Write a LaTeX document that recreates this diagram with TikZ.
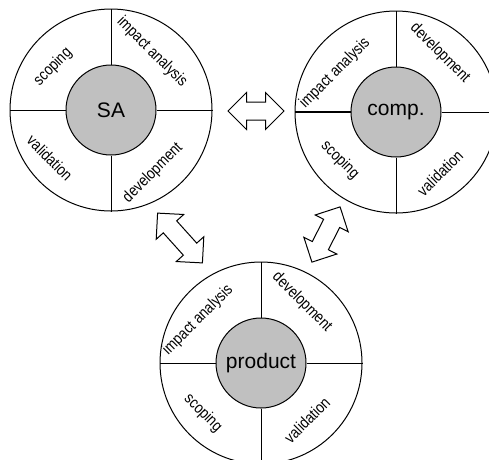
\documentclass[tikz,border=0pt]{standalone}
\usepackage{fontspec}
\setmainfont{Liberation Sans}
\newfontfamily\narrowsans[FakeStretch=0.84]{Liberation Sans}
\usetikzlibrary{shapes.arrows}
\definecolor{hubgray}{RGB}{192,192,192}
\tikzset{
  ring/.style={circle, draw, line width=1pt, minimum size=202pt, inner sep=0pt},
  hub/.style={circle, draw, line width=1pt, fill=hubgray, minimum size=90pt, inner sep=0pt, font=\fontsize{21}{24}\selectfont},
  phase/.style={inner sep=0pt, font=\narrowsans\fontsize{16}{18}\selectfont},
  spoke/.style={line width=1pt},
  link/.style={double arrow, draw, line width=1pt, inner xsep=0pt, inner ysep=8.5pt,
    double arrow head extend=9.5pt, double arrow tip angle=90}
}
\begin{document}
\begin{tikzpicture}[x=1pt,y=-1pt]
    \useasboundingbox (0,0) rectangle (489,459);
    % SA
    \node (sa) at (111,110) [ring]{};
    \node (sahub) at (111,110) [hub]{SA};
    \draw[spoke] (sahub.north) -- (sa.north);
    \draw[spoke] (sahub.south) -- (sa.south);
    \draw[spoke] (sahub.west) -- (sa.west);
    \draw[spoke] (sahub.east) -- (sa.east);
    \node (sa1) at (53,67) [phase, rotate=45]{scoping};
    \node (sa2) at (152,52) [phase, rotate=-45]{impact analysis};
    \node (sa3) at (50,158) [phase, rotate=-45]{validation};
    \node (sa4) at (153,173) [phase, rotate=45]{development};
    % comp.
    \node (co) at (396,112) [ring]{};
    \node (cohub) at (396,112) [hub]{comp.};
    \draw[spoke] (cohub.north) -- (co.north);
    \draw[spoke] (cohub.south) -- (co.south);
    \draw[line width=2pt] (cohub.west) -- (co.west);
    \draw[spoke] (cohub.east) -- (co.east);
    \node (co1) at (335,73) [phase, rotate=45]{impact analysis};
    \node (co2) at (440,53) [phase, rotate=-45]{development};
    \node (co3) at (340,160) [phase, rotate=-45]{scoping};
    \node (co4) at (440,173) [phase, rotate=45]{validation};
    % product
    \node (pr) at (261,363) [ring]{};
    \node (prhub) at (261,363) [hub]{product};
    \draw[spoke] (prhub.north) -- (pr.north);
    \draw[spoke] (prhub.south) -- (pr.south);
    \draw[spoke] (prhub.west) -- (pr.west);
    \draw[spoke] (prhub.east) -- (pr.east);
    \node (pr1) at (198,320) [phase, rotate=45]{impact analysis};
    \node (pr2) at (302,302) [phase, rotate=-45]{development};
    \node (pr3) at (203,413) [phase, rotate=-45]{scoping};
    \node (pr4) at (307,420) [phase, rotate=45]{validation};
    % links
    \node (l1) at (256,111) [link, minimum height=56pt]{};
    \node (l2) at (180,238) [link, minimum height=67pt, rotate=-48]{};
    \node (l3) at (326,234.5) [link, minimum height=62pt, rotate=63]{};
  \end{tikzpicture}
\end{document}
